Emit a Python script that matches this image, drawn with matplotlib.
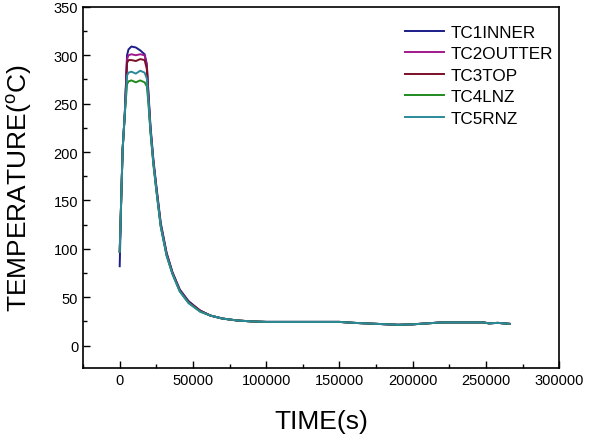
import matplotlib
matplotlib.use("Agg")
import matplotlib.pyplot as plt
from matplotlib.ticker import MultipleLocator

plt.rcParams["font.family"] = ["Liberation Sans", "DejaVu Sans"]
plt.rcParams["mathtext.default"] = "regular"

# time (s)
time_s = [0, 1000, 2000, 3500, 5000, 6000, 8000, 11000, 14000, 17000,
          18500, 19500, 21000, 23000, 25000, 28000, 32000, 36000, 41000,
          47000, 55000, 62000, 70000, 80000, 90000, 100000, 150000, 160000,
          175000, 190000, 200000, 210000, 220000, 248000, 252000, 258000,
          266000]

tail = [24.5, 24.5, 23.5, 22.5, 21.5, 22, 23, 24, 24, 23, 23.5, 22.5]

tc1_inner = [82, 150, 203, 240, 300, 306, 309, 308, 305, 301,
             291, 264, 227, 192, 165, 127, 96, 76, 58,
             46, 36, 31, 28, 26, 25] + tail
tc2_outter = [97, 150, 203, 240, 296, 300, 301, 300, 301, 300,
              289, 261, 224, 190, 163, 125, 95, 75, 57,
              45, 36, 31, 28, 26, 25] + tail
tc3_top = [97, 150, 203, 240, 292, 295, 295, 294, 296, 295,
           286, 259, 223, 189, 162, 124, 94, 75, 57,
           45, 36, 31, 28, 26, 25] + tail
tc4_lnz = [97, 150, 203, 240, 270, 273, 274, 272, 274, 272,
           268, 252, 220, 187, 160, 123, 93, 74, 56,
           44, 35, 31, 28, 26, 25] + tail
tc5_rnz = [97, 150, 203, 240, 279, 282, 283, 281, 284, 282,
           276, 256, 222, 188, 161, 123, 93, 74, 56,
           44, 35, 31, 28, 26, 25] + tail

series = [
    ("TC1INNER", tc1_inner, "#1c1c8a"),
    ("TC2OUTTER", tc2_outter, "#a0188c"),
    ("TC3TOP", tc3_top, "#7a1028"),
    ("TC4LNZ", tc4_lnz, "#208a20"),
    ("TC5RNZ", tc5_rnz, "#2a8a9a"),
]

fig = plt.figure(figsize=(6.02, 4.35), dpi=100)
ax = fig.add_axes([0.138, 0.152, 0.791, 0.830])

for name, temps, color in series:
    ax.plot(time_s, temps, color=color, lw=1.4, label=name)

ax.set_xlim(-25000, 300000)
ax.set_ylim(-23, 350)
ax.xaxis.set_major_locator(MultipleLocator(50000))
ax.xaxis.set_minor_locator(MultipleLocator(25000))
ax.yaxis.set_major_locator(MultipleLocator(50))
ax.yaxis.set_minor_locator(MultipleLocator(25))
ax.tick_params(which="both", direction="in", top=False, right=False,
               labelsize=10.5, width=1, colors="black")
ax.tick_params(which="major", length=5)
ax.tick_params(which="minor", length=3)
for sp in ax.spines.values():
    sp.set_linewidth(1.2)

ax.set_xlabel("TIME(s)", fontsize=19, labelpad=16)
ax.set_ylabel("TEMPERATURE($^{o}$C)", fontsize=19, labelpad=14)

ax.legend(loc="upper right", frameon=False, fontsize=12.3, handlelength=2.3,
          handletextpad=0.4, labelspacing=0.38, borderaxespad=0.3,
          bbox_to_anchor=(1.013, 0.984))

fig.savefig("out.png", dpi=100)
